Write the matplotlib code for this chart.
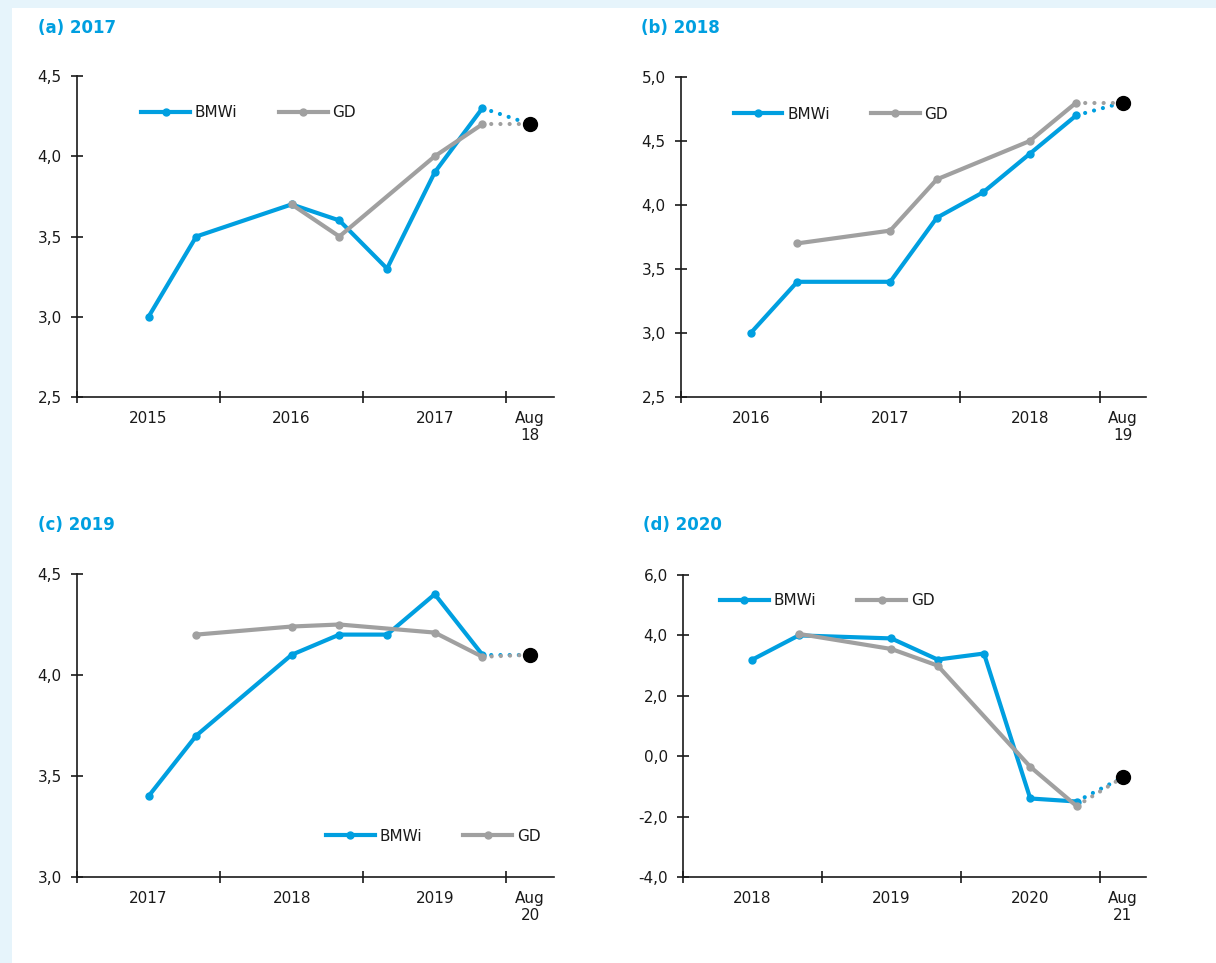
import numpy as np
import matplotlib
matplotlib.use('Agg')
import matplotlib.pyplot as plt
from matplotlib.patches import Rectangle
from matplotlib.ticker import FuncFormatter

BLUE = '#009fe0'
GREY = '#a0a0a0'
TEXT = '#1a1a1a'

# forecast slots 1..8, actual value sits in slot 9 ("Aug")
slots = [1, 2, 3, 4, 5, 6, 7, 8]
actual_slot = 9

titles = ['(a) 2017', '(b) 2018', '(c) 2019', '(d) 2020']
year_labels = [
    ['2015', '2016', '2017', 'Aug\n18'],
    ['2016', '2017', '2018', 'Aug\n19'],
    ['2017', '2018', '2019', 'Aug\n20'],
    ['2018', '2019', '2020', 'Aug\n21'],
]

a_bmwi = [3.0, 3.5, None, 3.7, 3.6, 3.3, 3.9, 4.3]
a_gd = [None, None, None, 3.7, 3.5, None, 4.0, 4.2]
a_actual = 4.2

b_bmwi = [3.0, 3.4, None, 3.4, 3.9, 4.1, 4.4, 4.7]
b_gd = [None, 3.7, None, 3.8, 4.2, None, 4.5, 4.8]
b_actual = 4.8

c_bmwi = [3.4, 3.7, None, 4.1, 4.2, 4.2, 4.4, 4.1]
c_gd = [None, 4.2, None, 4.24, 4.25, None, 4.21, 4.09]
c_actual = 4.1

d_bmwi = [3.2, 4.0, None, 3.9, 3.2, 3.4, -1.4, -1.5]
d_gd = [None, 4.05, None, 3.55, 3.0, None, -0.35, -1.65]
d_actual = -0.7

bmwi_all = [a_bmwi, b_bmwi, c_bmwi, d_bmwi]
gd_all = [a_gd, b_gd, c_gd, d_gd]
actual_all = [a_actual, b_actual, c_actual, d_actual]

y_limits = [(2.5, 4.5), (2.5, 5.0), (3.0, 4.5), (-4.0, 6.0)]
y_steps = [0.5, 0.5, 0.5, 2.0]

# axes boxes in pixels: left, right, top, bottom
W, H = 1216, 963
boxes = [(77, 554, 76, 397), (681, 1146, 77, 397),
         (77, 554, 574, 877), (683, 1146, 575, 877)]
title_xy = [(38, 28), (641, 28), (38, 525), (643, 525)]
legend_xy = [(0.135, 0.885), (0.113, 0.884), (0.522, 0.135), (0.08, 0.915)]

plt.rcParams['font.family'] = ['DejaVu Sans']

fig = plt.figure(figsize=(W / 100, H / 100), dpi=100)
fig.patch.set_facecolor('white')
fig.patches.append(Rectangle((0, 1 - 8 / H), 1, 8 / H, transform=fig.transFigure,
                             facecolor='#e6f4fb', edgecolor='none', zorder=0))
fig.patches.append(Rectangle((0, 0), 12 / W, 1, transform=fig.transFigure,
                             facecolor='#e6f4fb', edgecolor='none', zorder=0))


def clean(values):
    xs = [s for s, v in zip(slots, values) if v is not None]
    ys = [v for v in values if v is not None]
    return xs, ys


comma = FuncFormatter(lambda v, p: f'{v:.1f}'.replace('.', ','))

for i in range(4):
    l, r, t, b = boxes[i]
    ax = fig.add_axes([l / W, 1 - b / H, (r - l) / W, (b - t) / H])
    ax.set_facecolor('none')

    bx, by = clean(bmwi_all[i])
    gx, gy = clean(gd_all[i])
    act = actual_all[i]

    # dotted link from the last forecast to the realised value
    ax.plot([bx[-1], actual_slot], [by[-1], act], color=BLUE, lw=3,
            linestyle=(0, (0.01, 2.2)), dash_capstyle='round', zorder=2)
    ax.plot([gx[-1], actual_slot], [gy[-1], act], color=GREY, lw=3,
            linestyle=(0, (0.01, 2.2)), dash_capstyle='round', zorder=2)

    ax.plot(bx, by, color=BLUE, lw=3, marker='o', ms=5, label='BMWi',
            solid_joinstyle='miter', zorder=3)
    ax.plot(gx, gy, color=GREY, lw=3, marker='o', ms=5, label='GD',
            solid_joinstyle='miter', zorder=4)
    ax.plot([actual_slot], [act], 'o', color='black', ms=10, zorder=5)

    ax.set_xlim(-0.5, 9.5)
    lo, hi = y_limits[i]
    ax.set_ylim(lo, hi)
    ax.set_yticks(np.arange(lo, hi + 1e-9, y_steps[i]))
    ax.yaxis.set_major_formatter(comma)

    ax.set_xticks([-0.5, 2.5, 5.5, 8.5])
    ax.set_xticklabels([])
    ax.set_xticks([1, 4, 7, 9], minor=True)
    ax.set_xticklabels(year_labels[i], minor=True)

    for side in ['top', 'right']:
        ax.spines[side].set_visible(False)
    for side in ['left', 'bottom']:
        ax.spines[side].set_linewidth(1.2)
        ax.spines[side].set_color(TEXT)

    ax.tick_params(axis='both', which='major', direction='inout', length=8,
                   width=1.2, color=TEXT, labelsize=11, labelcolor=TEXT)
    ax.tick_params(axis='y', pad=7)
    ax.tick_params(axis='x', which='minor', length=0, pad=10,
                   labelsize=11, labelcolor=TEXT)
    for lab in ax.get_xticklabels(minor=True):
        lab.set_linespacing(1.15)
        lab.set_verticalalignment('top')

    ax.legend(loc='center left', bbox_to_anchor=legend_xy[i], ncol=2,
              frameon=False, fontsize=11, handlelength=3.2, handletextpad=0.3,
              columnspacing=2.7, borderpad=0, borderaxespad=0, labelcolor=TEXT)

    tx, ty = title_xy[i]
    fig.text(tx / W, 1 - ty / H, titles[i], color=BLUE, fontsize=12,
             fontweight='bold', va='center', ha='left')

fig.savefig('out.png', dpi=100)
